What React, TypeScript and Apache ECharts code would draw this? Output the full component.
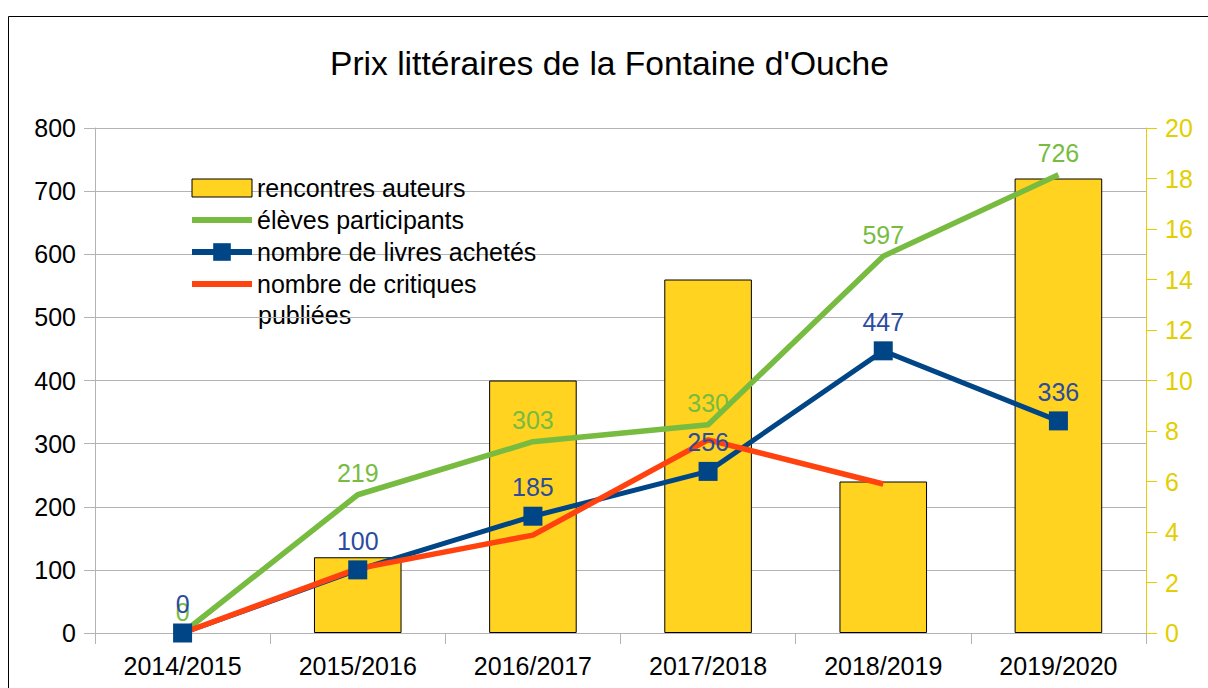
import React, { useEffect, useRef } from "react";
import * as echarts from "echarts";

const categories = ["2014/2015", "2015/2016", "2016/2017", "2017/2018", "2018/2019", "2019/2020"];
const rencontresAuteurs = [0, 3, 10, 14, 6, 18];
const elevesParticipants = [0, 219, 303, 330, 597, 726];
const livresAchetes = [0, 100, 185, 256, 447, 336];
const critiquesPubliees = [0, 102, 155, 306, 236, null];

const FONT = "Liberation Sans";
const GRID = "#b3b3b3";
const YELLOW = "#e3cf00";
const BAR = "#ffd320";
const GREEN = "#77bc41";
const BLUE = "#004586";
const BLUE_LABEL = "#2b4b9f";
const RED = "#ff420e";

export default function App() {
  const ref = useRef<HTMLDivElement>(null);
  useEffect(() => {
    if (!ref.current) return;
    const chart = echarts.init(ref.current, undefined, { renderer: "svg" });
    chart.setOption({
      animation: false,
      backgroundColor: "#ffffff",
      textStyle: { fontFamily: FONT },
      title: {
        text: "Prix littéraires de la Fontaine d'Ouche",
        left: 325,
        top: 41,
        textStyle: { fontFamily: FONT, fontSize: 33.6, fontWeight: "normal", color: "#000" },
      },
      graphic: [
        {
          type: "rect",
          shape: { x: 8.5, y: 16.5, width: 1400, height: 900 },
          style: { fill: "none", stroke: "#000", lineWidth: 1 },
          silent: true,
        },
        {
          type: "text",
          left: 258,
          top: 302,
          style: { text: "publiées", fontFamily: FONT, fontSize: 25, fill: "#000" },
          silent: true,
        },
      ],
      legend: {
        orient: "vertical",
        left: 189,
        top: 173,
        padding: 0,
        itemWidth: 60,
        itemHeight: 22,
        itemGap: 2,
        textStyle: { fontFamily: FONT, fontSize: 25, color: "#000", lineHeight: 30 },
        formatter: (name: string) => (name === "nombre de critiques publiées" ? "nombre de critiques" : name),
        data: [
          {
            name: "rencontres auteurs",
            icon: "path://M0,0M0,2h60v18h-60zM60,22",
            itemStyle: { color: BAR, borderColor: "#000", borderWidth: 1 },
          },
          { name: "élèves participants", lineStyle: { width: 6, color: GREEN } },
          { name: "nombre de livres achetés", lineStyle: { width: 6, color: BLUE } },
          { name: "nombre de critiques publiées", lineStyle: { width: 6, color: RED } },
        ],
      },
      grid: { left: 95, right: 62, top: 128, bottom: 55, containLabel: false },
      xAxis: {
        type: "category",
        data: categories,
        boundaryGap: true,
        axisLine: { show: true, lineStyle: { color: GRID, width: 1 } },
        axisTick: { show: true, length: 11, lineStyle: { color: GRID } },
        axisLabel: { fontFamily: FONT, fontSize: 25, color: "#000", margin: 20 },
      },
      yAxis: [
        {
          type: "value",
          min: 0,
          max: 800,
          interval: 100,
          position: "left",
          axisLine: { show: true, lineStyle: { color: GRID, width: 1 } },
          axisTick: { show: true, length: 11, lineStyle: { color: GRID } },
          axisLabel: { fontFamily: FONT, fontSize: 25, color: "#000", margin: 19 },
          splitLine: { show: true, lineStyle: { color: GRID, width: 1 } },
        },
        {
          type: "value",
          min: 0,
          max: 20,
          interval: 2,
          position: "right",
          axisLine: { show: true, lineStyle: { color: YELLOW, width: 1 } },
          axisTick: { show: true, length: 11, lineStyle: { color: YELLOW } },
          axisLabel: { fontFamily: FONT, fontSize: 25, color: YELLOW, margin: 19 },
          splitLine: { show: false },
        },
      ],
      series: [
        {
          name: "rencontres auteurs",
          type: "bar",
          yAxisIndex: 1,
          data: rencontresAuteurs.map((v) =>
            v === 0 ? { value: v, itemStyle: { borderWidth: 0, color: "rgba(0,0,0,0)" } } : v
          ),
          barWidth: "50%",
          itemStyle: { color: BAR, borderColor: "#000", borderWidth: 1 },
        },
        {
          name: "élèves participants",
          type: "line",
          yAxisIndex: 0,
          data: elevesParticipants,
          symbol: "circle",
          symbolSize: 2,
          showSymbol: true,
          itemStyle: { color: "rgba(0,0,0,0)" },
          lineStyle: { color: GREEN, width: 5.5 },
          label: {
            show: true,
            position: "top",
            distance: 8,
            fontFamily: FONT,
            fontSize: 25,
            color: GREEN,
          },
        },
        {
          name: "nombre de livres achetés",
          type: "line",
          yAxisIndex: 0,
          data: livresAchetes,
          symbol: "rect",
          symbolSize: 19,
          itemStyle: { color: BLUE },
          lineStyle: { color: BLUE, width: 5 },
          label: {
            show: true,
            position: "top",
            distance: 7,
            fontFamily: FONT,
            fontSize: 25,
            color: BLUE_LABEL,
          },
        },
        {
          name: "nombre de critiques publiées",
          type: "line",
          yAxisIndex: 0,
          data: critiquesPubliees,
          symbol: "circle",
          symbolSize: 2,
          itemStyle: { color: "rgba(0,0,0,0)" },
          lineStyle: { color: RED, width: 5.5 },
        },
      ],
    });
    return () => chart.dispose();
  }, []);
  return (
    <div
      ref={ref}
      style={{ position: "fixed", left: 0, top: 0, width: 1208, height: 688 }}
    />
  );
}
